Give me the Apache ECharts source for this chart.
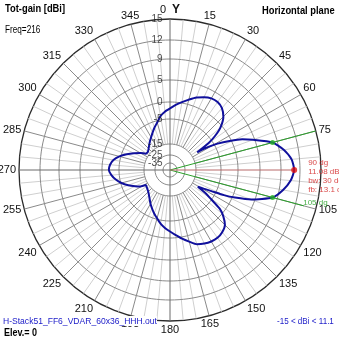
<!DOCTYPE html>
<html>
<head>
<meta charset="utf-8">
<script src="https://cdn.jsdelivr.net/npm/echarts@6/dist/echarts.min.js"></script>
<style>
  html, body { margin: 0; padding: 0; background: #ffffff; }
  #chart { width: 339px; height: 339px; }
</style>
</head>
<body>
<div id="chart"></div>
<script>
// Azimuth pattern, total gain in dBi, horizontal plane
const azimuthDeg = [0, 5, 10, 15, 20, 25, 30, 35, 40, 45, 50, 53, 55, 57, 59, 61, 64, 67, 70, 75,
  80, 85, 90, 95, 100, 105, 110, 113, 115, 117, 119, 121, 123, 125, 128, 131, 135, 140, 145, 150,
  155, 160, 165, 170, 175, 180, 185, 190, 195, 200, 205, 210, 215, 220, 225, 230, 235, 238, 241, 245,
  250, 255, 260, 265, 270, 275, 280, 285, 290, 295, 300, 304, 308, 312, 318, 325, 330, 335, 340, 345,
  350, 355, 360];
const gainDbi = [-1.9, -0.8, 0.2, 1.1, 2.1, 2.8, 3.35, 3.4, 2.9, 1.7, -0.7, -3.5, -6.5, -12.4, -7.5, -4.0, -0.5, 2.4, 4.6, 8.08,
  9.75, 10.75, 11.08, 10.6, 9.6, 8.08, 4.2, 0.6, -2.5, -6.8, -10.0, -12.4, -8.8, -5.8, -1.4, 0.6, 2.2, 3.0, 3.35, 3.3,
  3.0, 2.5, 1.4, 0.4, -0.8, -1.9, -2.9, -4.0, -5.4, -6.9, -8.4, -9.8, -11.2, -12.3, -13.1, -13.6, -13.9, -14.0, -11.8, -10.0,
  -7.6, -5.3, -3.8, -2.7, -2.02, -2.3, -3.1, -4.6, -7.0, -9.5, -11.8, -13.7, -14.0, -13.7, -12.8, -11.4, -10.3, -8.9, -7.3, -5.7,
  -3.9, -2.8, -1.9];

// Grid rings (dBi) and compass ticks
const ringDbi = [15, 12, 9, 5, 0, -5, -15, -25, -35];
const angleTicks = [0, 15, 30, 45, 60, 75, 90, 105, 120, 135, 150, 165, 180, 195, 210, 225, 240, 255, 270, 285, 300, 315, 330, 345];

// Main-lobe summary
const peakAzimuth = 90;
const peakGain = 11.08;
const beamEdges = [75, 105];
const halfPowerGain = 8.08;
const backAzimuth = 270;
const gainRange = [-15, 11.1];
const freqMHz = 216;
const elevationDeg = 0;
const fileName = 'H-Stack51_FF6_VDAR_60x36_HHH.out';

// Radial scale: compressed logarithmic dB scale, piecewise between ring knots
function radialScale(db) {
  const kDb = [-35, -25, -15, -5, 0, 5, 9, 12, 15];
  const kR = [7, 15, 26, 51, 68, 90, 111, 130, 151];
  if (db <= kDb[0]) return kR[0] * Math.max(0, (db + 45) / 10);
  for (let i = 1; i < kDb.length; i++) {
    if (db <= kDb[i]) {
      const t = (db - kDb[i - 1]) / (kDb[i] - kDb[i - 1]);
      return kR[i - 1] + t * (kR[i] - kR[i - 1]);
    }
  }
  return kR[kR.length - 1];
}
const R_OUT = radialScale(15);
const R_IN = radialScale(-15);
const R_EDGE_TAG = radialScale(13.2);

const FONT = "'Liberation Sans Narrow', 'Liberation Sans', Arial, sans-serif";
const chart = echarts.init(document.getElementById('chart'), null, { renderer: 'canvas' });

const series = [];

// spokes every 5 degrees, heavier every 15
for (let a = 0; a < 360; a += 5) {
  if (a === 0 || a === 90 || a === 180 || a === 270) continue;
  const major = a % 15 === 0;
  series.push({
    type: 'line', coordinateSystem: 'polar', silent: true, symbol: 'none', z: 1,
    lineStyle: { color: major ? '#8a8a8a' : '#cfcfcf', width: 1 },
    data: [[R_IN, a], [R_OUT, a]]
  });
}
// main axes through the centre
series.push({
  type: 'line', coordinateSystem: 'polar', silent: true, symbol: 'none', z: 2,
  lineStyle: { color: '#6a6a6a', width: 1 },
  data: [[R_OUT, 0], [R_OUT, 180]]
});
series.push({
  type: 'line', coordinateSystem: 'polar', silent: true, symbol: 'none', z: 2,
  lineStyle: { color: '#6a6a6a', width: 1 },
  data: [[0, 270], [R_OUT, 270]]
});

// dB rings
ringDbi.forEach(function (v) {
  if (v === 15) return;
  const pts = [];
  for (let a = 0; a <= 360; a += 2) pts.push([radialScale(v), a]);
  series.push({
    type: 'line', coordinateSystem: 'polar', silent: true, symbol: 'none', z: 1,
    lineStyle: { color: '#8a8a8a', width: 1 },
    data: pts
  });
});

// ring labels along the 0 degree axis
series.push({
  type: 'scatter', coordinateSystem: 'polar', silent: true, symbolSize: 1, z: 6,
  itemStyle: { color: 'rgba(0,0,0,0)' },
  label: {
    show: true, position: 'left', distance: 7,
    fontFamily: FONT, fontSize: 10, color: '#222',
    formatter: function (p) { return String(p.value[2]); }
  },
  data: ringDbi.map(function (v) { return [radialScale(v), 0, v]; })
});

// beam-edge lines (-3 dB) and peak line
series.push({
  type: 'line', coordinateSystem: 'polar', silent: true, symbol: 'none', z: 3,
  lineStyle: { color: '#2aa02a', width: 1 },
  data: [[0, beamEdges[0]], [R_OUT, beamEdges[0]]]
});
series.push({
  type: 'line', coordinateSystem: 'polar', silent: true, symbol: 'none', z: 3,
  lineStyle: { color: '#2aa02a', width: 1 },
  data: [[0, beamEdges[1]], [R_EDGE_TAG, beamEdges[1]]]
});
// tag at the end of the lower beam-edge line
series.push({
  type: 'scatter', coordinateSystem: 'polar', silent: true, symbolSize: 1, z: 8,
  itemStyle: { color: 'rgba(0,0,0,0)' },
  label: {
    show: true, position: 'right', distance: 0, offset: [-1, -3],
    fontFamily: FONT, fontSize: 8, color: '#1c9a1c',
    formatter: beamEdges[1] + ' dg'
  },
  data: [[R_EDGE_TAG, beamEdges[1]]]
});
series.push({
  type: 'line', coordinateSystem: 'polar', silent: true, symbol: 'none', z: 3,
  lineStyle: { color: '#b86a6a', width: 1 },
  data: [[0, peakAzimuth], [radialScale(peakGain), peakAzimuth]]
});

// the pattern
series.push({
  type: 'line', coordinateSystem: 'polar', silent: true, symbol: 'none', z: 5,
  smooth: 0.2,
  lineStyle: { color: '#10109c', width: 2 },
  data: azimuthDeg.map(function (a, i) { return [radialScale(gainDbi[i]), a]; })
});

// markers
const backGain = gainDbi[azimuthDeg.indexOf(backAzimuth)];
const fb = (peakGain - backGain).toFixed(1);
series.push({
  type: 'scatter', coordinateSystem: 'polar', silent: true, symbolSize: 5, z: 7,
  itemStyle: { color: '#22b022' },
  data: beamEdges.map(function (a) { return [radialScale(halfPowerGain), a]; })
});
series.push({
  type: 'scatter', coordinateSystem: 'polar', silent: true, symbolSize: 6, z: 7,
  itemStyle: { color: '#e01010' },
  label: {
    show: true, position: [17, -9], align: 'left', verticalAlign: 'top',
    fontFamily: FONT, fontSize: 8, lineHeight: 9, color: '#d01818',
    formatter: peakAzimuth + ' dg\n' + peakGain.toFixed(2) + ' dB\nbw: ' +
      (beamEdges[1] - beamEdges[0]) + ' dg\nfb: ' + fb + ' dB'
  },
  data: [[radialScale(peakGain), peakAzimuth]]
});

// narrow-set caption text
function caption(x, y, text, font, fill, sx, extra) {
  return {
    type: 'text', x: x, y: y, scaleX: sx, z: 10,
    style: Object.assign({ text: text, font: font, fill: fill }, extra || {})
  };
}

chart.setOption({
  animation: false,
  backgroundColor: '#ffffff',
  polar: { center: [170, 170], radius: R_OUT },
  radiusAxis: {
    type: 'value', min: 0, max: R_OUT,
    axisLine: { show: false }, axisTick: { show: false },
    axisLabel: { show: false }, splitLine: { show: false }
  },
  angleAxis: {
    type: 'value', min: 0, max: 360, interval: 15, startAngle: 90, clockwise: true,
    axisLine: { lineStyle: { color: '#2a2a2a', width: 1.3 } },
    axisTick: { show: false },
    splitLine: { show: false },
    axisLabel: {
      margin: 3, fontFamily: FONT, fontSize: 11, color: '#111',
      formatter: function (v) {
        if (v === 360 || v === peakAzimuth || angleTicks.indexOf(v) < 0) return '';
        if (v === 0) return '{n|0}  {y|Y}';
        return String(v);
      },
      rich: {
        n: { fontFamily: FONT, fontSize: 11, color: '#111' },
        y: { fontFamily: FONT, fontSize: 12, fontWeight: 'bold', color: '#111' }
      }
    }
  },
  graphic: [
    caption(5, 3, 'Tot-gain [dBi]', 'bold 11px ' + FONT, '#000', 0.85),
    caption(5, 25, 'Freq=' + freqMHz, '10px ' + FONT, '#000', 0.82),
    caption(262, 5, 'Horizontal plane', 'bold 11px ' + FONT, '#000', 0.85),
    caption(3, 316, fileName, '9.5px ' + FONT, '#1a1ac8', 0.9, { backgroundColor: '#fff' }),
    caption(4, 328, 'Elev.= ' + elevationDeg, 'bold 10px ' + FONT, '#000', 0.9),
    caption(277, 316, gainRange[0] + ' < dBi < ' + gainRange[1], '9.5px ' + FONT, '#1a1ac8', 0.85)
  ],
  series: series
});
</script>
</body>
</html>
